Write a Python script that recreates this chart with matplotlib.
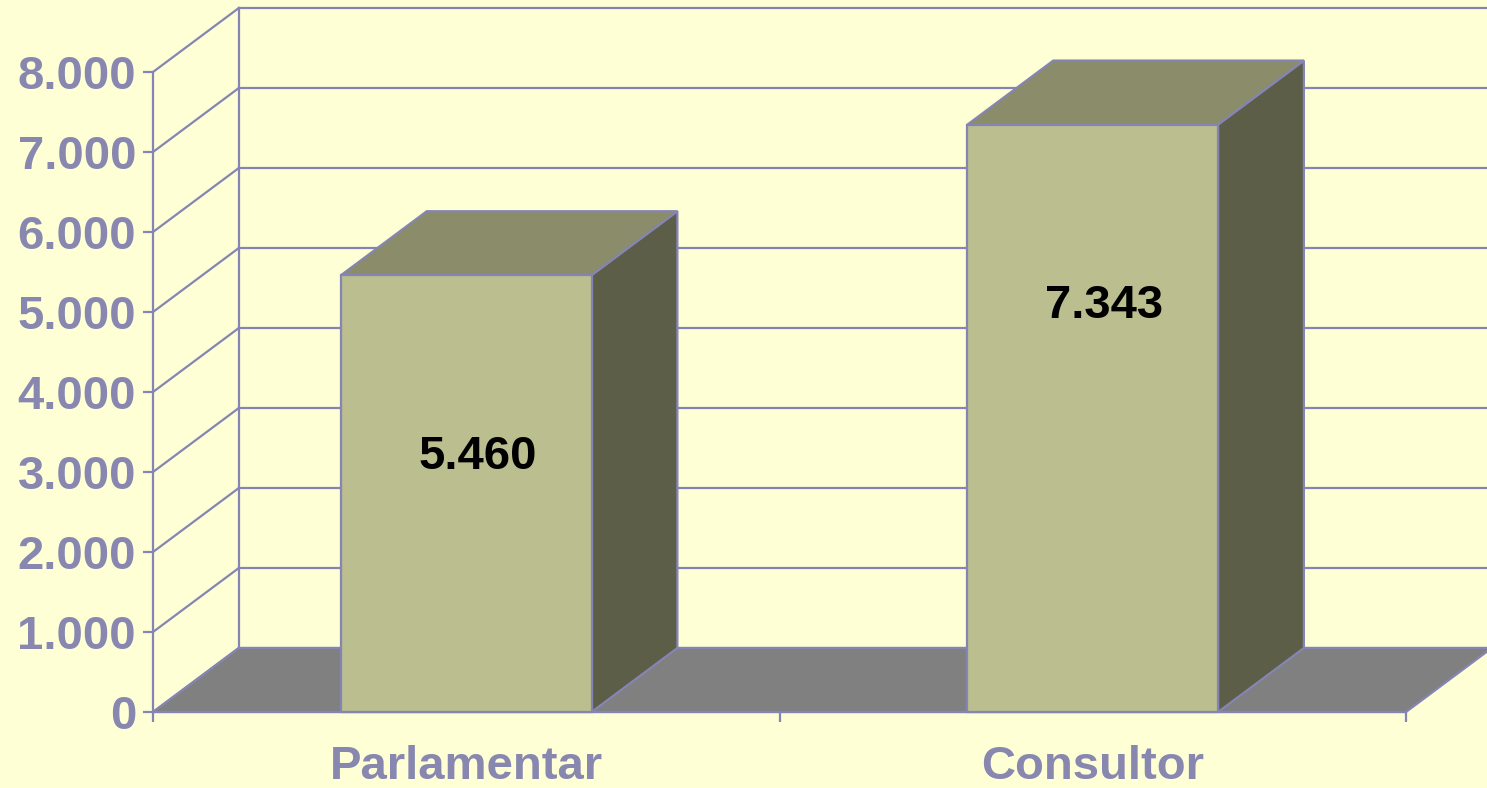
import matplotlib.pyplot as plt
from matplotlib.patches import Polygon, Rectangle

categories = ["Parlamentar", "Consultor"]
values = [5460, 7343]
value_labels = ["5.460", "7.343"]
y_ticks = [0, 1000, 2000, 3000, 4000, 5000, 6000, 7000, 8000]

BG = "#FFFFD6"
LINE = "#8585B5"
TEXT = "#8787B0"
FLOOR = "#808080"
FRONT = "#BBBE8F"
TOP = "#8B8C6A"
SIDE = "#5D5E48"

# oblique depth offset, in data units (categories, value)
DX = 0.137
DY = 800
BAR_W = 0.4
LW = 1.6

plt.rcParams["font.family"] = ["Liberation Sans", "DejaVu Sans"]
plt.rcParams["font.weight"] = "bold"

fig = plt.figure(figsize=(14.87, 7.88), dpi=100, facecolor=BG)
ax = fig.add_axes([153 / 1487, 76 / 788, 1253 / 1487, 640 / 788])
ax.set_xlim(0, len(categories))
ax.set_ylim(0, 8000)
ax.patch.set_visible(False)
for s in ax.spines.values():
    s.set_visible(False)

n = len(categories)

# walls: left side diagonals, back wall gridlines
for t in y_ticks:
    ax.plot([0, DX], [t, t + DY], color=LINE, lw=LW, clip_on=False, zorder=1)
    ax.plot([DX, n + DX], [t + DY, t + DY], color=LINE, lw=LW, clip_on=False, zorder=1)
ax.plot([DX, DX], [DY, 8000 + DY], color=LINE, lw=LW, clip_on=False, zorder=1)
ax.plot([0, 0], [0, 8000], color=LINE, lw=LW, clip_on=False, zorder=1)

# floor
ax.add_patch(Polygon([(0, 0), (n, 0), (n + DX, DY), (DX, DY)], closed=True,
                     facecolor=FLOOR, edgecolor=LINE, lw=LW, clip_on=False, zorder=2))
ax.plot([0, n], [0, 0], color=LINE, lw=LW, clip_on=False, zorder=2)

# bars
for i, v in enumerate(values):
    l = i + 0.5 - BAR_W / 2
    r = i + 0.5 + BAR_W / 2
    ax.add_patch(Polygon([(r, 0), (r + DX, DY), (r + DX, v + DY), (r, v)], closed=True,
                         facecolor=SIDE, edgecolor=LINE, lw=LW, clip_on=False, zorder=3))
    ax.add_patch(Polygon([(l, v), (r, v), (r + DX, v + DY), (l + DX, v + DY)], closed=True,
                         facecolor=TOP, edgecolor=LINE, lw=LW, clip_on=False, zorder=3))
    ax.add_patch(Rectangle((l, 0), BAR_W, v, facecolor=FRONT, edgecolor=LINE,
                           lw=LW, clip_on=False, zorder=4))
    ax.text(i + 0.5 + 0.018, v - 2270, value_labels[i], ha="center", va="center",
            fontsize=34, fontweight="bold", color="black", zorder=5)

# ticks
ax.set_yticks(y_ticks)
ax.set_yticklabels([f"{t:,}".replace(",", ".") for t in y_ticks])
ax.tick_params(axis="y", length=7.2, width=LW, color=LINE, labelcolor=TEXT,
               labelsize=34, pad=5)
ax.set_xticks(range(n + 1))
ax.set_xticklabels([])
ax.set_xticks([i + 0.5 for i in range(n)], minor=True)
ax.set_xticklabels(categories, minor=True)
ax.tick_params(axis="x", which="major", length=7.2, width=LW, color=LINE)
ax.tick_params(axis="x", which="minor", length=0, labelcolor=TEXT,
               labelsize=34, pad=24)

fig.savefig("out.png", dpi=100, facecolor=BG)
